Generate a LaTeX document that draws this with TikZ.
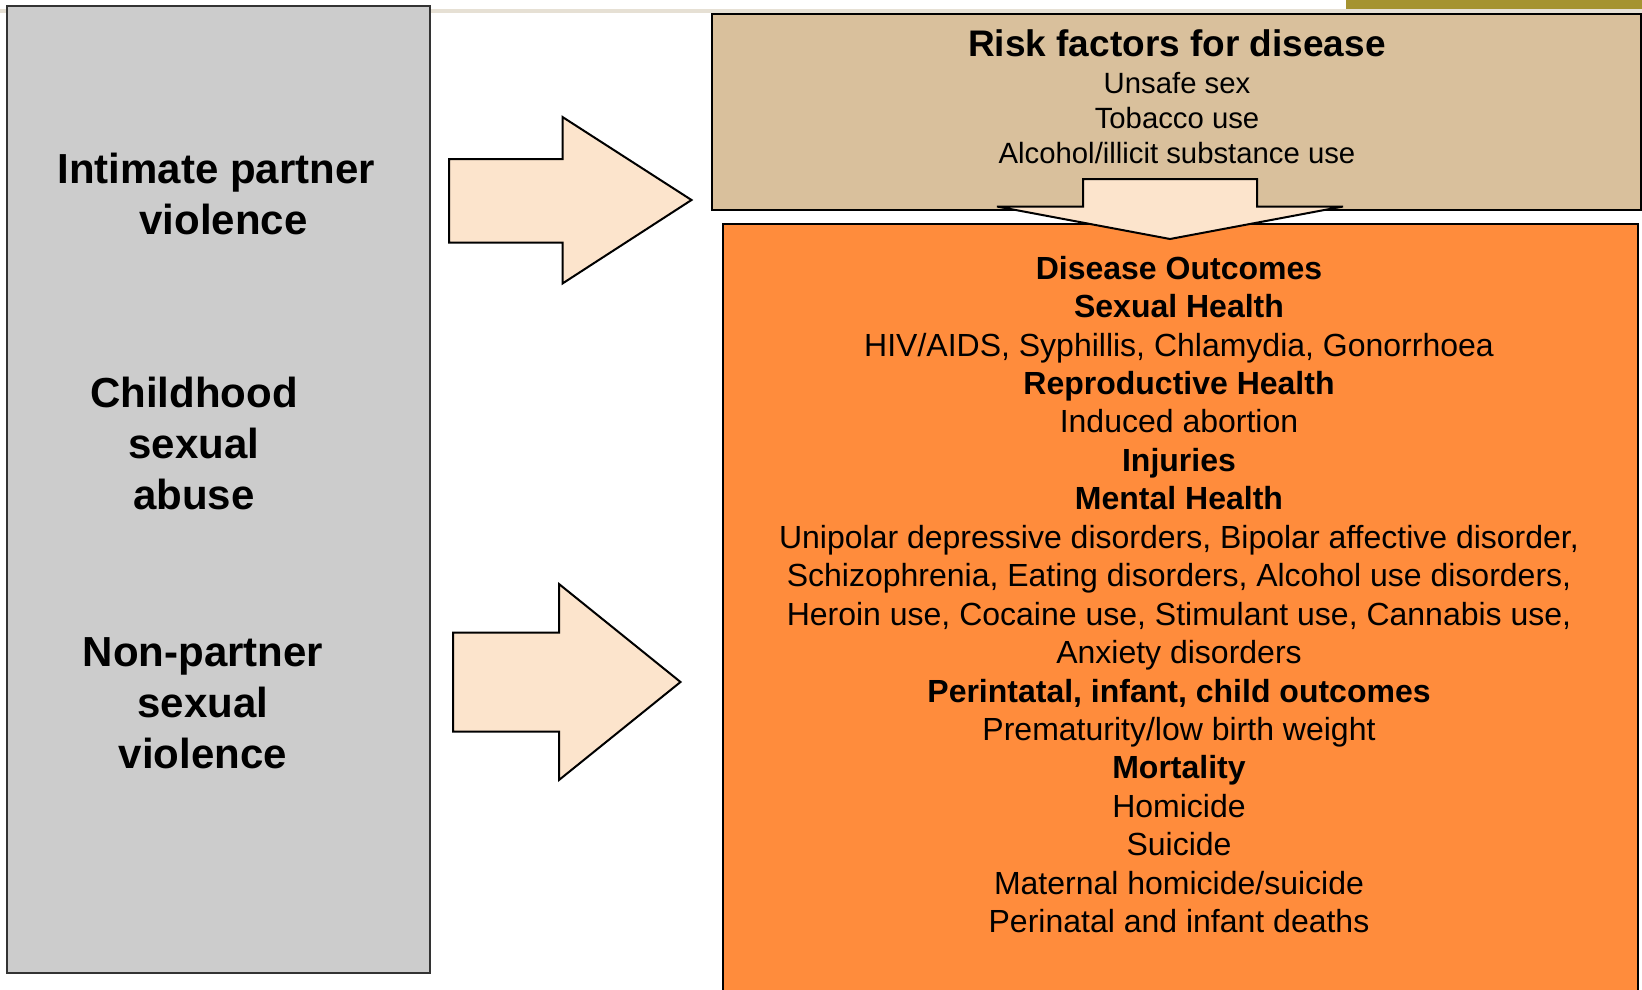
\documentclass[tikz,border=0pt]{standalone}
\usepackage{fontspec}
\setmainfont{Liberation Sans}
\definecolor{grayfill}{HTML}{CCCCCC}
\definecolor{tanfill}{HTML}{D9C09C}
\definecolor{orangefill}{HTML}{FF8C3C}
\definecolor{arrowfill}{HTML}{FCE4CC}
\definecolor{olivebar}{HTML}{A59330}
\definecolor{stripe}{HTML}{E6E0D4}
\tikzset{
  panel/.style={draw=black, line width=2pt, inner sep=0pt},
  blockarrow/.style={draw=black, line width=2pt, fill=arrowfill, line join=miter},
  lefttext/.style={align=center, font=\fontsize{42}{51}\selectfont\bfseries},
  tantitle/.style={align=center, font=\fontsize{37}{44}\selectfont\bfseries},
  tanlist/.style={align=center, font=\fontsize{29.3}{35}\selectfont},
  outtext/.style={align=center, font=\fontsize{32}{38.44}\selectfont},
}
\begin{document}
\begin{tikzpicture}[x=1pt,y=-1pt]
\useasboundingbox (0,0) rectangle (1642,990);
\clip (0,0) rectangle (1642,990);
\fill[stripe] (0,9) rectangle (1642,13);
\fill[olivebar] (1346,0) rectangle (1642,9);
% left grey panel
\node[panel, draw=black!80, fill=grayfill, minimum width=423pt, minimum height=967.5pt] (left) at (218.5,489.3) {};
\node[lefttext] (ipv) at (223.5,193.5) {Intimate partner\hspace*{14.8pt}\\violence};
\node[lefttext] (csa) at (194,443) {Childhood\\sexual\\abuse};
\node[lefttext] (nps) at (203,703) {Non-partner\\sexual\\violence};
% risk factor panel
\node[panel, fill=tanfill, minimum width=929pt, minimum height=196pt] (risk) at (1176.5,112) {};
\node[tantitle] (risktitle) at (1177,43.5) {Risk factors for disease};
\node[tanlist] (risklist) at (1177,118.5) {Unsafe sex\\Tobacco use\\Alcohol/illicit substance use};
% outcomes panel
\node[panel, fill=orangefill, minimum width=915pt, minimum height=800pt, anchor=north west] (out) at (722,223) {};
\node[outtext] (outlist) at (1179,594.5) {\textbf{Disease Outcomes}\\
\textbf{Sexual Health}\\
HIV/AIDS, Syphillis, Chlamydia, Gonorrhoea\\
\textbf{Reproductive Health}\\
Induced abortion\\
\textbf{Injuries}\\
\textbf{Mental Health}\\
Unipolar depressive disorders, Bipolar affective disorder,\\
Schizophrenia, Eating disorders, Alcohol use disorders,\\
Heroin use, Cocaine use, Stimulant use, Cannabis use,\\
Anxiety disorders\\
\textbf{Perintatal, infant, child outcomes}\\
Prematurity/low birth weight\\
\textbf{Mortality}\\
Homicide\\
Suicide\\
Maternal homicide/suicide\\
Perinatal and infant deaths};
% block arrows
\draw[blockarrow] (449,159) -- (562.5,159) -- (562.5,117) -- (691.5,200) -- (562.5,283.5) -- (562.5,242.5) -- (449,242.5) -- cycle;
\draw[blockarrow] (453,632.5) -- (559,632.5) -- (559,584) -- (680.5,682) -- (559,780) -- (559,731.5) -- (453,731.5) -- cycle;
\draw[blockarrow] (1083,179) -- (1257,179) -- (1257,206.5) -- (1343,206.5) -- (1170,239) -- (997,206.5) -- (1083,206.5) -- cycle;
\end{tikzpicture}
\end{document}
